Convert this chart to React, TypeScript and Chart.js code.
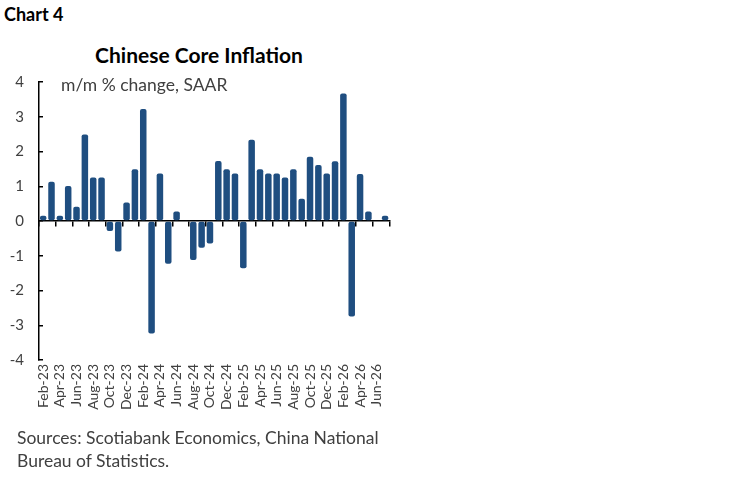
import { useEffect, useRef } from "react";
import { Chart, registerables, ChartConfiguration } from "chart.js";

Chart.register(...registerables);

// monthly categories, Feb-23 .. Jul-26
const months = [
  "Feb-23", "Mar-23", "Apr-23", "May-23", "Jun-23", "Jul-23", "Aug-23", "Sep-23",
  "Oct-23", "Nov-23", "Dec-23", "Jan-24", "Feb-24", "Mar-24", "Apr-24", "May-24",
  "Jun-24", "Jul-24", "Aug-24", "Sep-24", "Oct-24", "Nov-24", "Dec-24", "Jan-25",
  "Feb-25", "Mar-25", "Apr-25", "May-25", "Jun-25", "Jul-25", "Aug-25", "Sep-25",
  "Oct-25", "Nov-25", "Dec-25", "Jan-26", "Feb-26", "Mar-26", "Apr-26", "May-26",
  "Jun-26", "Jul-26",
];

// m/m % change, SAAR
const coreInflation = [
  0.15, 1.13, 0.15, 1.01, 0.41, 2.49, 1.25, 1.25,
  -0.29, -0.88, 0.53, 1.49, 3.22, -3.24, 1.37, -1.23,
  0.27, 0, -1.12, -0.77, -0.65, 1.73, 1.49, 1.37,
  -1.36, 2.34, 1.49, 1.37, 1.37, 1.25, 1.49, 0.64,
  1.85, 1.61, 1.37, 1.72, 3.67, -2.75, 1.35, 0.27,
  0, 0.15,
];

const yTicks = [-4, -3, -2, -1, 0, 1, 2, 3, 4];

const FONT = "Lato, 'Noto Sans', sans-serif";
const TEXT = "#404040";

export default function App() {
  const canvasRef = useRef<HTMLCanvasElement>(null);
  const chartRef = useRef<Chart | null>(null);

  useEffect(() => {
    document.body.style.margin = "0";
    if (!canvasRef.current) return;
    if (chartRef.current) chartRef.current.destroy();

    const config: ChartConfiguration = {
      type: "bar",
      data: {
        labels: months,
        datasets: [
          {
            data: coreInflation,
            backgroundColor: "#1f4e80",
            borderRadius: 2,
            borderSkipped: false,
            barPercentage: 0.78,
            categoryPercentage: 1,
          },
        ],
      },
      options: {
        animation: false,
        responsive: false,
        maintainAspectRatio: false,
        layout: { padding: { top: 10, right: 10, bottom: 0, left: 0 } },
        plugins: {
          legend: { display: false },
          tooltip: { enabled: false },
          title: { display: false },
        },
        scales: {
          x: {
            type: "category",
            position: "bottom",
            offset: true,
            grid: { display: false, drawTicks: false },
            border: { display: false },
            ticks: {
              autoSkip: false,
              maxRotation: 90,
              minRotation: 90,
              padding: 4,
              color: TEXT,
              font: { family: FONT, size: 14 },
              callback: (_v, i) => (i % 2 === 0 ? months[i] : ""),
            },
            afterFit: (s) => {
              s.height = 70;
            },
          },
          x2: {
            type: "category",
            axis: "x",
            position: { y: 0 },
            offset: true,
            grid: {
              offset: true,
              drawOnChartArea: false,
              drawTicks: true,
              tickLength: 5,
              lineWidth: 1.5,
              color: (ctx: any) =>
                ctx.index === undefined || ctx.index % 2 === 0 ? "#000" : "rgba(0,0,0,0)",
            },
            border: { display: true, color: "#000", width: 1.5 },
            ticks: { display: false, autoSkip: false },
            afterFit: (s) => {
              s.height = 0;
            },
          },
          y: {
            min: -4,
            max: 4,
            position: "left",
            afterBuildTicks: (s) => {
              s.ticks = yTicks.map((v) => ({ value: v }));
            },
            grid: {
              drawOnChartArea: false,
              drawTicks: true,
              tickLength: -4,
              lineWidth: 1.5,
              color: "#000",
            },
            border: { display: true, color: "#000", width: 1.5 },
            ticks: {
              padding: 19,
              color: TEXT,
              font: { family: FONT, size: 15 },
            },
            afterFit: (s) => {
              s.width = 39;
            },
          },
        },
      },
    };

    chartRef.current = new Chart(canvasRef.current, config);
    return () => {
      chartRef.current?.destroy();
      chartRef.current = null;
    };
  }, []);

  return (
    <div
      style={{
        position: "relative",
        width: 749,
        height: 482,
        background: "#fff",
        fontFamily: FONT,
        overflow: "hidden",
      }}
    >
      <div
        style={{
          position: "absolute",
          left: 4,
          top: 3,
          fontSize: 18,
          fontWeight: 700,
          color: "#000",
        }}
      >
        Chart 4
      </div>
      <div
        style={{
          position: "absolute",
          left: 0,
          width: 398,
          top: 42,
          textAlign: "center",
          fontSize: 21,
          fontWeight: 700,
          color: "#000",
        }}
      >
        Chinese Core Inflation
      </div>
      <div style={{ position: "absolute", left: 0, top: 54, width: 406, height: 376 }}>
        <canvas ref={canvasRef} width={406} height={376} style={{ width: 406, height: 376 }} />
      </div>
      <div
        style={{
          position: "absolute",
          left: 61,
          top: 74,
          fontSize: 17.5,
          color: TEXT,
        }}
      >
        m/m % change, SAAR
      </div>
      <div
        style={{
          position: "absolute",
          left: 17,
          top: 426,
          fontSize: 17.5,
          lineHeight: "23px",
          color: TEXT,
        }}
      >
        Sources: Scotiabank Economics, China National
        <br />
        Bureau of Statistics.
      </div>
    </div>
  );
}
